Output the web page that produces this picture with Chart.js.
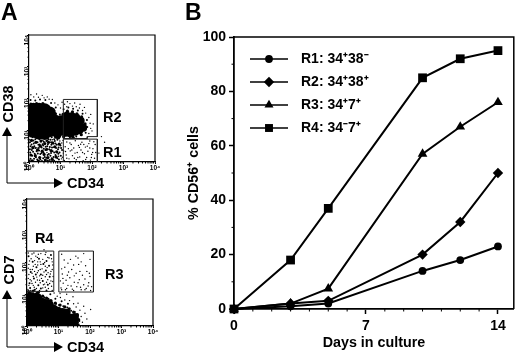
<!DOCTYPE html>
<html>
<head>
<meta charset="utf-8">
<script src="https://cdn.jsdelivr.net/npm/chart.js@4"></script>
<style>
  html, body { margin: 0; background: #fff; }
  body { width: 520px; height: 353px; position: relative; overflow: hidden; font-family: "Liberation Sans", Arial, sans-serif; font-weight: bold; color: #000; }
  canvas { position: absolute; }
  .lab { position: absolute; white-space: nowrap; line-height: 1; }
  .rot { transform: translate(-50%, -50%) rotate(-90deg); }
  svg { position: absolute; left: 0; top: 0; }
</style>
</head>
<body>
<canvas id="scatterTop" width="180" height="175" style="left:0;top:0;width:180px;height:175px"></canvas>
<canvas id="scatterBottom" width="180" height="178" style="left:0;top:175px;width:180px;height:178px"></canvas>
<canvas id="lineChart" width="340" height="353" style="left:180px;top:0;width:340px;height:353px"></canvas>

<svg width="180" height="353">
  <path d="M7 134V183H56M7 297V347H56" fill="none" stroke="#000" stroke-width="1"/>
  <path d="M7 127L2 136H12ZM63 183L54 178V188ZM7 290L2 299H12ZM63 347L54 342V352Z"/>
</svg>
<div class="lab" style="left:1px;top:1px;font-size:23px">A</div>
<div class="lab" style="left:185px;top:1px;font-size:23px">B</div>
<div class="lab rot" style="left:8px;top:104px;font-size:14.5px">CD38</div>
<div class="lab" style="left:67px;top:176px;font-size:14.5px">CD34</div>
<div class="lab rot" style="left:9px;top:270px;font-size:14.5px">CD7</div>
<div class="lab" style="left:67px;top:340px;font-size:14.5px">CD34</div>
<div class="lab" style="left:103px;top:110px;font-size:14.5px">R2</div>
<div class="lab" style="left:103px;top:145px;font-size:14.5px">R1</div>
<div class="lab" style="left:35px;top:231px;font-size:14.5px">R4</div>
<div class="lab" style="left:105px;top:267px;font-size:14.5px">R3</div>

<script>
// panel B
const days = [0, 3, 5, 10, 12, 14];
const r1Values = [0, 1, 2, 14, 18, 23];
const r2Values = [0, 2, 3, 20, 32, 50];
const r3Values = [0, 2, 7.5, 57, 67, 76];
const r4Values = [0, 18, 37, 85, 92, 95];
const seriesLabels = ["R1: 34⁺38⁻", "R2: 34⁺38⁺", "R3: 34⁺7⁺", "R4: 34⁻7⁺"];
const yTicks = [0, 20, 40, 60, 80, 100];
const xTicks = [0, 7, 14];

// panel A, all in decades (log10 of the fluorescence)
const decadeLabels = ["10⁰", "10¹", "10²", "10³", "10⁴"];
const gateR1 = [[1.09, 0], [1.09, 0.72], [2.17, 0.72], [2.17, 0]];
const gateR2 = [[1.09, 0.74], [1.09, 1.97], [2.17, 1.97], [2.17, 0.8], [1.85, 0.8], [1.85, 0.74], [1.09, 0.74]];
const gateR3 = [[1.01, 1.07], [1.01, 2.36], [2.11, 2.36], [2.11, 1.07], [1.01, 1.07]];
const gateR4 = [[0, 1.09], [0.85, 1.09], [0.85, 2.36], [0, 2.36]];

const topCore = [[.12,.95],[.12,1.15],[.12,1.35],[.12,1.55],[.14,1.68],[.3,.9],[.3,1.1],[.3,1.3],[.3,1.5],[.32,1.68],[.5,.88],[.5,1.08],[.5,1.28],[.5,1.48],[.5,1.66],[.68,.98],[.68,1.18],[.68,1.38],[.66,1.56],[.84,1.1],[.84,1.3]];
const topBlob = [[1.02,.95],[1.02,1.15],[1.02,1.35],[1.17,.92],[1.17,1.12],[1.17,1.32],[1.32,.9],[1.32,1.1],[1.32,1.3],[1.47,.95],[1.47,1.15],[1.47,1.33],[1.6,1.0],[1.6,1.18],[.9,.85],[1.2,1.46],[1.36,1.44],[1.5,1.4],[1.64,1.3],[1.72,1.08]];
const topPatch = [[.08,.68],[.22,.62],[.38,.66],[.5,.58],[.62,.62],[.75,.6],[.12,.45],[.27,.38],[.42,.34],[.56,.4],[.7,.36],[.88,.32],[.06,.22],[.2,.2],[.34,.14],[.48,.24],[.6,.14],[.74,.08],[.86,.16],[.1,.04],[.3,.03],[.52,.06],[.96,.56],[.82,.48],[.36,.5],
[.84,1.52],[.95,1.22],[.06,1.82],[.24,1.84],[.44,1.84],[.62,1.74],[.78,1.62],[.92,.9],
[1.08,1.5],[1.22,1.6],[1.38,1.58],[1.52,1.52],[1.67,1.42],[1.78,1.2],[1.76,1.02],[1.1,.8],[1.4,.78],[1.66,.86]];
const topMid = [[.05,.1],[.13,.32],[.08,.55],[.2,.72],[.22,.15],[.31,.44],[.27,.62],[.36,.08],[.4,.28],[.43,.56],[.38,.74],[.5,.16],[.52,.38],[.55,.66],[.6,.05],[.63,.25],[.66,.47],[.62,.72],[.72,.12],[.75,.34],[.78,.58],[.84,.22],[.86,.44],[.9,.7],[.95,.08],[.97,.3],[1.0,.52],[.03,.4],[.15,.58],[.28,.27],[.45,.12],[.58,.5],[.7,.62],[.8,.04],[.92,.4],[.1,.2],[.34,.55],[.47,.42],[.68,.2],[.82,.66],
[.05,1.95],[.2,1.94],[.35,1.97],[.52,1.95],[.7,1.86],[.85,1.72],[.98,1.5],[1.1,1.66],[1.25,1.72],[1.4,1.68],[1.55,1.62],[1.7,1.52],[1.84,1.32],[1.85,1.1],[1.8,.92],[1.1,.76],[1.3,.76],[1.5,.8],
[.02,.05],[.16,.1],[.26,.08],[.41,.03],[.55,.13],[.66,.06],[.78,.16],[.9,.12],[1.01,.2],[.04,.3],[.18,.26],[.24,.34],[.36,.25],[.46,.3],[.59,.22],[.7,.28],[.8,.3],[.93,.26],[1.05,.38],[.09,.38],[.2,.44],[.32,.36],[.4,.46],[.53,.48],[.64,.4],[.73,.46],[.88,.54],[1.02,.44],[.05,.5],[.17,.5],[.3,.54],[.45,.52],[.6,.56],[.71,.54],[.84,.58],[.94,.46],[.03,.62],[.14,.68],[.33,.72],[.47,.64],[.58,.68],[.68,.7],[.8,.72],[.95,.74],[.12,.78],[.28,.78],[.52,.76],[.72,.78]];
const topFine = [[.06,2.12],[.15,2.05],[.24,2.14],[.3,2.04],[.42,2.1],[.48,2.02],[.58,2.05],[.64,1.98],[.74,1.97],[.82,1.86],[.92,1.8],[1.0,1.7],[1.13,1.82],[1.2,1.74],[1.3,1.84],[1.38,1.76],[1.5,1.74],[1.6,1.7],[1.7,1.62],[1.8,1.54],[1.9,1.4],[1.94,1.22],[1.96,1.06],[1.9,.9],[2.0,.98],[2.04,1.2],[1.96,1.5],[1.22,1.9],[1.45,1.86],[1.05,1.88],[1.62,1.82],[1.76,1.72],
[1.12,.05],[1.18,.22],[1.15,.48],[1.2,.63],[1.27,.1],[1.31,.35],[1.34,.55],[1.38,.2],[1.42,.44],[1.47,.67],[1.5,.07],[1.53,.3],[1.57,.52],[1.61,.16],[1.65,.38],[1.68,.62],[1.72,.04],[1.76,.26],[1.79,.47],[1.83,.14],[1.87,.34],[1.9,.58],[1.95,.06],[1.99,.24],[2.03,.42],[2.08,.12],[2.1,.55],[1.25,.42],[1.44,.12],[1.6,.46],[1.74,.55],[1.93,.44],[2.22,.28],[2.4,.62],[2.3,.8],
[1.2,.12],[1.36,.38],[1.55,.14],[1.7,.3],[1.85,.5],[1.98,.14],[1.3,.6],[1.46,.28],[1.64,.56],[1.8,.08],[2.02,.3],[2.12,.3],[1.16,.33],[1.93,.66],[2.06,.64],
[1.06,.15],[1.1,.35],[1.04,.6],[.98,.66],[1.08,.68],[.88,.02],[.74,.7],[.02,.7],[.15,.03],[.28,.05],[.56,.02],[.44,.68],[.25,.45],[.57,.3],[.77,.46],[.94,.18],[1.03,.1],[1.09,.28]];

const bottomCore = [[.12,.12],[.12,.32],[.12,.52],[.12,.72],[.12,.88],[.3,.12],[.3,.32],[.3,.52],[.3,.72],[.3,.86],[.48,.12],[.48,.32],[.48,.52],[.48,.7],[.66,.12],[.66,.32],[.66,.5],[.66,.66],[.82,.12],[.82,.32],[.82,.5]];
const bottomBlob = [[.98,.12],[.98,.3],[.98,.48],[1.12,.1],[1.12,.28],[1.12,.44],[1.26,.1],[1.26,.28],[1.26,.42],[1.4,.1],[1.4,.26],[1.52,.12],[1.52,.28]];
const bottomPatch = [[.05,1.08],[.2,1.1],[.36,1.06],[.5,.94],[.62,.88],[.76,.8],[.9,.72],[1.05,.66],[1.2,.6],[1.34,.54],[1.48,.44],[1.6,.36],[1.64,.2]];
const bottomMid = [[.05,1.02],[.18,1.0],[.3,1.04],[.42,.95],[.55,.9],[.68,.86],[.8,.72],[.92,.7],[1.02,.66],[1.15,.62],[1.28,.58],[1.4,.48],[1.52,.44],[1.62,.32],[1.66,.16],[1.64,.05],[.1,1.2],[.25,1.14],[.44,1.18],[.62,1.12],[.74,1.0],[.9,.86],[1.1,.78],[1.3,.7],
[.08,1.35],[.22,1.5],[.36,1.28],[.5,1.42],[.66,1.3],[.12,1.7],[.3,1.85],[.44,1.62],[.6,1.75],[.72,1.55],[.18,2.02],[.05,2.2],[.38,2.12],[.62,2.05],[.76,2.24],[.28,1.62],[.52,1.95],[.7,1.9]];
const bottomFine = [[.04,1.5],[.14,1.42],[.2,1.28],[.33,1.45],[.42,1.36],[.58,1.22],[.66,1.46],[.78,1.25],[.04,1.82],[.17,1.78],[.26,1.94],[.36,1.74],[.48,1.8],[.58,1.55],[.67,1.68],[.8,1.78],[.08,2.05],[.16,2.27],[.28,2.2],[.44,2.28],[.5,2.1],[.58,2.25],[.7,2.14],[.8,2.02],[.34,2.02],[.46,1.5],[.76,1.42],[.24,1.72],[.54,2.4],
[.03,1.15],[.12,1.12],[.23,1.22],[.3,1.18],[.4,1.12],[.5,1.2],[.56,1.32],[.68,1.18],[.8,1.12],[.06,1.28],[.16,1.34],[.27,1.38],[.4,1.44],[.52,1.3],[.62,1.38],[.72,1.34],[.82,1.4],[.1,1.46],[.2,1.56],[.31,1.54],[.4,1.58],[.5,1.6],[.62,1.62],[.74,1.64],[.83,1.56],[.06,1.62],[.16,1.66],[.33,1.68],[.42,1.78],[.54,1.7],[.64,1.84],[.76,1.72],[.1,1.78],[.2,1.88],[.34,1.92],[.44,1.94],[.58,1.88],[.82,1.92],[.06,1.94],[.13,2.12],[.24,2.06],[.33,2.16],[.42,2.02],[.56,2.0],[.66,2.16],[.78,2.12],[.04,2.3],[.22,2.3],[.36,2.26],[.6,2.32],
[1.08,1.2],[1.15,1.35],[1.22,1.14],[1.3,1.28],[1.36,1.52],[1.44,1.16],[1.5,1.38],[1.58,1.24],[1.66,1.46],[1.72,1.14],[1.8,1.3],[1.88,1.18],[1.96,1.36],[2.02,1.12],[1.12,1.64],[1.2,1.85],[1.28,1.6],[1.42,1.78],[1.56,1.66],[1.64,1.94],[1.76,1.6],[1.9,1.72],[1.38,2.1],[1.55,2.2],[1.72,2.02],[1.18,2.08],[2.0,1.56],[1.06,1.42],
[1.1,1.14],[1.26,1.18],[1.4,1.26],[1.48,1.12],[1.62,1.36],[1.7,1.22],[1.84,1.14],[1.94,1.26],[2.05,1.24],[1.14,1.5],[1.24,1.44],[1.32,1.7],[1.5,1.58],[1.68,1.72],[1.84,1.48],[1.98,1.66],[1.1,1.8],[1.3,1.98],[1.48,1.92],[1.86,1.9],[2.0,2.1],[1.62,2.14],[1.1,2.26],[1.8,2.28],
[.96,.94],[1.06,.9],[1.2,.82],[1.35,.8],[1.48,.7],[1.56,.6],[1.68,.5],[1.72,.3],[1.76,.12],[1.84,.4],[1.9,.22],[1.8,.62],[1.62,.72],[2.02,.52],[1.46,.92],[1.05,1.02],[.86,1.04],[1.26,1.0]];

const minorDays = [1, 2, 3, 4, 5, 6, 8, 9, 10, 11, 12, 13];
const minorPercent = [10, 30, 50, 70, 90];

Chart.defaults.font.family = '"Liberation Sans", Arial, sans-serif';
Chart.defaults.font.weight = "bold";
Chart.defaults.color = "#000";
Chart.defaults.animation = false;
Chart.defaults.responsive = false;

const toXY = (pairs) => pairs.map((p) => ({ x: p[0], y: p[1] }));
const rowsOf = (xs, ys) => xs.map((x, i) => ({ x: x, y: ys[i] }));

// top and right edge of the plot box, small ticks without labels
const frame = {
  id: "frame",
  afterDraw(chart, args, opts) {
    const { ctx, chartArea: a, scales } = chart;
    ctx.save();
    ctx.strokeStyle = "#000";
    ctx.lineWidth = opts.width;
    ctx.beginPath();
    ctx.moveTo(a.left, a.top); ctx.lineTo(a.right, a.top); ctx.lineTo(a.right, a.bottom);
    ctx.stroke();
    ctx.lineWidth = 1;
    ctx.beginPath();
    opts.minorX.forEach((v) => {
      const x = scales.x.getPixelForValue(v);
      ctx.moveTo(x, a.bottom); ctx.lineTo(x, a.bottom + opts.size);
    });
    opts.minorY.forEach((v) => {
      const y = scales.y.getPixelForValue(v);
      ctx.moveTo(a.left, y); ctx.lineTo(a.left - opts.size, y);
    });
    ctx.stroke();
    ctx.restore();
  }
};

// 4 decades with log spaced ticks in between
const logMinor = [];
[0, 1, 2, 3].forEach((d) => [2, 3, 4, 5, 6, 7, 8, 9].forEach((m) => logMinor.push(d + Math.log10(m))));

function dots(pairs, r) {
  return { type: "scatter", data: toXY(pairs), pointRadius: r, pointBackgroundColor: "#000", pointBorderWidth: 0, pointHoverRadius: r };
}
function gate(pairs) {
  return { type: "line", data: toXY(pairs), showLine: true, borderColor: "#222", borderWidth: 1, pointRadius: 0, fill: false, tension: 0, clip: false };
}

function flowPlot(id, pad, yWidth, xHeight, gates, core, blob, patch, mid, fine) {
  new Chart(document.getElementById(id), {
    type: "scatter",
    data: { datasets: gates.map(gate).concat([dots(core, 6), dots(blob, 4), dots(patch, 1.6), dots(mid, 1), dots(fine, 0.7)]) },
    options: {
      layout: { padding: pad },
      plugins: { legend: { display: false }, tooltip: { enabled: false }, frame: { width: 1.2, size: 1.5, minorX: logMinor, minorY: logMinor } },
      scales: {
        x: {
          type: "linear", min: 0, max: 4,
          afterFit(s) { s.height = xHeight; },
          border: { color: "#000", width: 1.2 },
          grid: { drawOnChartArea: false, tickLength: 2, tickColor: "#000" },
          ticks: { stepSize: 1, padding: 0, maxRotation: 0, font: { size: 6.5 }, callback: (v) => decadeLabels[v] }
        },
        y: {
          min: 0, max: 4,
          afterFit(s) { s.width = yWidth; },
          border: { color: "#000", width: 1.2 },
          grid: { drawOnChartArea: false, tickLength: 2, tickColor: "#000" },
          ticks: { stepSize: 1, padding: 0, minRotation: 90, maxRotation: 90, font: { size: 6.5 }, callback: (v) => decadeLabels[v] }
        }
      }
    },
    plugins: [frame]
  });
}

flowPlot("scatterTop", { top: 35, right: 25 }, 29, 13, [gateR1, gateR2], topCore, topBlob, topPatch, topMid, topFine);
flowPlot("scatterBottom", { top: 24, right: 27 }, 27, 27, [gateR3, gateR4], bottomCore, bottomBlob, bottomPatch, bottomMid, bottomFine);

// legend key: short line with the marker on it
function legendKey(style, r) {
  const c = document.createElement("canvas");
  c.width = 44; c.height = 14;
  const k = c.getContext("2d");
  k.fillStyle = "#000"; k.strokeStyle = "#000"; k.lineWidth = 1.6;
  k.beginPath(); k.moveTo(0, 7); k.lineTo(38, 7); k.stroke();
  Chart.helpers.drawPoint(k, { pointStyle: style, radius: r, rotation: 0, borderWidth: 0 }, 19, 7);
  return c;
}
const markers = [["circle", 3.9], ["rectRot", 5.2], ["triangle", 5.2], ["rect", 5.6]];
const keys = markers.map((m) => legendKey(m[0], m[1]));

function series(values, i) {
  return {
    label: seriesLabels[i], data: rowsOf(days, values),
    borderColor: "#000", backgroundColor: "#000", borderWidth: 2, tension: 0, clip: false,
    pointStyle: markers[i][0], pointRadius: [3.9, 5.2, 5.6, 6.2][i], pointBackgroundColor: "#000", pointBorderWidth: 0
  };
}

const nudgeLegend = {
  id: "nudgeLegend",
  afterLayout(chart) { chart.legend.top += 43; chart.legend.left += 7; }
};

new Chart(document.getElementById("lineChart"), {
  type: "line",
  data: { datasets: [r1Values, r2Values, r3Values, r4Values].map(series) },
  options: {
    layout: { padding: { top: 37, right: 3 } },
    plugins: {
      tooltip: { enabled: false },
      frame: { width: 1.5, size: 2.5, minorX: minorDays, minorY: minorPercent },
      legend: {
        position: "chartArea", align: "start",
        labels: {
          usePointStyle: true, pointStyleWidth: 44, padding: 9,
          font: { size: 14 }, color: "#000",
          generateLabels: () => seriesLabels.map((t, i) => ({ text: t, pointStyle: keys[i], datasetIndex: i, lineWidth: 0 }))
        }
      }
    },
    scales: {
      x: {
        type: "linear", min: 0, max: 14.84,
        afterFit(s) { s.height = 44; },
        afterBuildTicks(s) { s.ticks = xTicks.map((v) => ({ value: v })); },
        border: { color: "#000", width: 1.8 },
        grid: { drawOnChartArea: false, tickLength: 5, tickColor: "#000", tickWidth: 1.5 },
        ticks: { padding: 4, maxRotation: 0, font: { size: 14 } },
        title: { display: true, text: "Days in culture", font: { size: 14.3 }, padding: { top: 0, bottom: 1 } }
      },
      y: {
        min: 0, max: 100,
        afterFit(s) { s.width = 54; },
        afterBuildTicks(s) { s.ticks = yTicks.map((v) => ({ value: v })); },
        border: { color: "#000", width: 1.8 },
        grid: { drawOnChartArea: false, tickLength: 5, tickColor: "#000", tickWidth: 1.5 },
        ticks: { padding: 3, font: { size: 14 } },
        title: { display: true, text: "% CD56⁺ cells", font: { size: 14.3 }, padding: { top: 5, bottom: 0 } }
      }
    }
  },
  plugins: [frame, nudgeLegend]
});
</script>
</body>
</html>
